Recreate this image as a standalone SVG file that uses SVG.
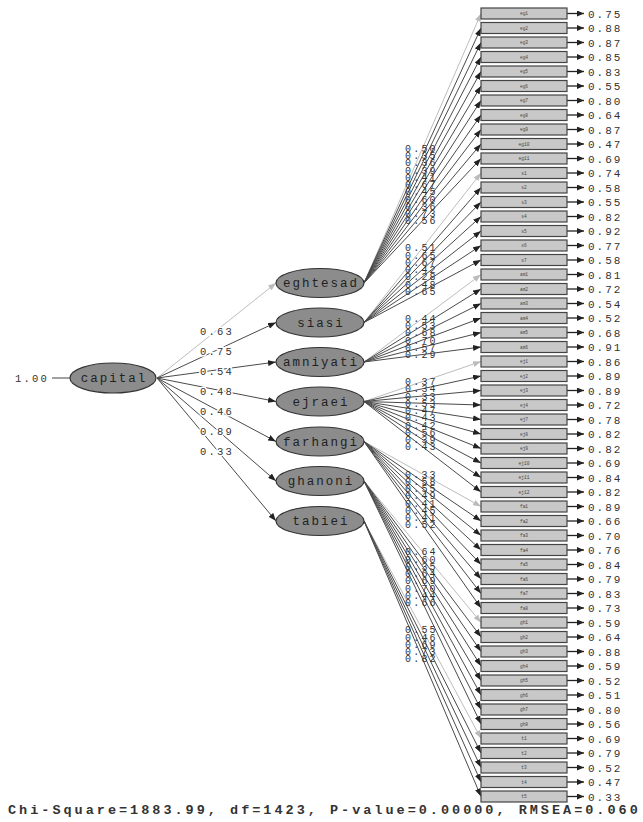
<svg xmlns="http://www.w3.org/2000/svg" width="643" height="822" viewBox="0 0 643 822">
<defs>
<style>
.bg{fill:#fff}
.ln{stroke:#4a4a4a;stroke-width:1;fill:none;marker-end:url(#ad)}
.lf{stroke:#bdbdbd;stroke-width:1;fill:none;marker-end:url(#al)}
.er{stroke:#222;stroke-width:1.3;marker-end:url(#ae)}
.bx{fill:#c8c8c8;stroke:#444;stroke-width:1.2}
.bt{font-family:"Liberation Mono",monospace;font-size:4.5px;fill:#444;text-anchor:middle}
.lv{font-family:"Liberation Mono",monospace;font-size:11px;letter-spacing:2px;fill:#333}
.ld{font-family:"Liberation Mono",monospace;font-size:10px;letter-spacing:2.2px;fill:#333}
.pl{font-family:"Liberation Mono",monospace;font-size:10.5px;letter-spacing:2.2px;fill:#333;stroke:#fff;stroke-width:3;paint-order:stroke}
.el{fill:#8c8c8c;stroke:#333;stroke-width:1.2}
.et{font-family:"Liberation Mono",monospace;font-size:12.5px;letter-spacing:2px;fill:#222;text-anchor:middle}
.ft{font-family:"Liberation Mono",monospace;font-size:13.5px;font-weight:bold;letter-spacing:3px;fill:#333}
</style>
<marker id="ad" markerUnits="userSpaceOnUse" markerWidth="8" markerHeight="6" refX="8" refY="3" orient="auto"><path d="M0,0 L8,3 L0,6 z" fill="#222"/></marker>
<marker id="al" markerUnits="userSpaceOnUse" markerWidth="8" markerHeight="6" refX="8" refY="3" orient="auto"><path d="M0,0 L8,3 L0,6 z" fill="#bbb"/></marker>
<marker id="ae" markerUnits="userSpaceOnUse" markerWidth="7" markerHeight="6" refX="7" refY="3" orient="auto"><path d="M0,0 L7,3 L0,6 z" fill="#222"/></marker>
</defs>
<rect class="bg" x="0" y="0" width="643" height="822"/>

<g id="connectors">
<line x1="52" y1="378" x2="70" y2="378" stroke="#444" stroke-width="1"/>
<line class="lf" x1="157" y1="378" x2="276" y2="283"/>
<line class="ln" x1="157" y1="378" x2="276" y2="322.5"/>
<line class="ln" x1="157" y1="378" x2="276" y2="362"/>
<line class="ln" x1="157" y1="378" x2="276" y2="401.5"/>
<line class="ln" x1="157" y1="378" x2="276" y2="441.5"/>
<line class="ln" x1="157" y1="378" x2="276" y2="481"/>
<line class="ln" x1="157" y1="378" x2="276" y2="521"/>

<line class="lf" x1="364" y1="283" x2="481" y2="13.5"/>
<line class="ln" x1="364" y1="283" x2="481" y2="28"/>
<line class="ln" x1="364" y1="283" x2="481" y2="42.5"/>
<line class="ln" x1="364" y1="283" x2="481" y2="57"/>
<line class="ln" x1="364" y1="283" x2="481" y2="71.5"/>
<line class="ln" x1="364" y1="283" x2="481" y2="86"/>
<line class="ln" x1="364" y1="283" x2="481" y2="100.5"/>
<line class="ln" x1="364" y1="283" x2="481" y2="115"/>
<line class="ln" x1="364" y1="283" x2="481" y2="129.5"/>
<line class="ln" x1="364" y1="283" x2="481" y2="144"/>
<line class="ln" x1="364" y1="283" x2="481" y2="158.5"/>

<line class="lf" x1="364" y1="322.5" x2="481" y2="173"/>
<line class="ln" x1="364" y1="322.5" x2="481" y2="187.5"/>
<line class="ln" x1="364" y1="322.5" x2="481" y2="202"/>
<line class="ln" x1="364" y1="322.5" x2="481" y2="216.5"/>
<line class="ln" x1="364" y1="322.5" x2="481" y2="231"/>
<line class="ln" x1="364" y1="322.5" x2="481" y2="245.5"/>
<line class="ln" x1="364" y1="322.5" x2="481" y2="260"/>

<line class="lf" x1="364" y1="362" x2="481" y2="274.5"/>
<line class="ln" x1="364" y1="362" x2="481" y2="289"/>
<line class="ln" x1="364" y1="362" x2="481" y2="303.5"/>
<line class="ln" x1="364" y1="362" x2="481" y2="318"/>
<line class="ln" x1="364" y1="362" x2="481" y2="332.5"/>
<line class="ln" x1="364" y1="362" x2="481" y2="347"/>

<line class="lf" x1="364" y1="401.5" x2="481" y2="361.5"/>
<line class="ln" x1="364" y1="401.5" x2="481" y2="376"/>
<line class="ln" x1="364" y1="401.5" x2="481" y2="390.5"/>
<line class="ln" x1="364" y1="401.5" x2="481" y2="405"/>
<line class="ln" x1="364" y1="401.5" x2="481" y2="419.5"/>
<line class="ln" x1="364" y1="401.5" x2="481" y2="434"/>
<line class="ln" x1="364" y1="401.5" x2="481" y2="448.5"/>
<line class="ln" x1="364" y1="401.5" x2="481" y2="463"/>
<line class="ln" x1="364" y1="401.5" x2="481" y2="477.5"/>
<line class="ln" x1="364" y1="401.5" x2="481" y2="492"/>

<line class="lf" x1="364" y1="441.5" x2="481" y2="506.5"/>
<line class="ln" x1="364" y1="441.5" x2="481" y2="521"/>
<line class="ln" x1="364" y1="441.5" x2="481" y2="535.5"/>
<line class="ln" x1="364" y1="441.5" x2="481" y2="550"/>
<line class="ln" x1="364" y1="441.5" x2="481" y2="564.5"/>
<line class="ln" x1="364" y1="441.5" x2="481" y2="579"/>
<line class="ln" x1="364" y1="441.5" x2="481" y2="593.5"/>
<line class="ln" x1="364" y1="441.5" x2="481" y2="608"/>

<line class="lf" x1="364" y1="481" x2="481" y2="622.5"/>
<line class="ln" x1="364" y1="481" x2="481" y2="637"/>
<line class="ln" x1="364" y1="481" x2="481" y2="651.5"/>
<line class="ln" x1="364" y1="481" x2="481" y2="666"/>
<line class="ln" x1="364" y1="481" x2="481" y2="680.5"/>
<line class="ln" x1="364" y1="481" x2="481" y2="695"/>
<line class="ln" x1="364" y1="481" x2="481" y2="709.5"/>
<line class="ln" x1="364" y1="481" x2="481" y2="724"/>

<line class="lf" x1="364" y1="521" x2="481" y2="738.5"/>
<line class="ln" x1="364" y1="521" x2="481" y2="753"/>
<line class="ln" x1="364" y1="521" x2="481" y2="767.5"/>
<line class="ln" x1="364" y1="521" x2="481" y2="782"/>
<line class="ln" x1="364" y1="521" x2="481" y2="796.5"/>

<line class="er" x1="567" y1="13.5" x2="584" y2="13.5"/>
<line class="er" x1="567" y1="28" x2="584" y2="28"/>
<line class="er" x1="567" y1="42.5" x2="584" y2="42.5"/>
<line class="er" x1="567" y1="57" x2="584" y2="57"/>
<line class="er" x1="567" y1="71.5" x2="584" y2="71.5"/>
<line class="er" x1="567" y1="86" x2="584" y2="86"/>
<line class="er" x1="567" y1="100.5" x2="584" y2="100.5"/>
<line class="er" x1="567" y1="115" x2="584" y2="115"/>
<line class="er" x1="567" y1="129.5" x2="584" y2="129.5"/>
<line class="er" x1="567" y1="144" x2="584" y2="144"/>
<line class="er" x1="567" y1="158.5" x2="584" y2="158.5"/>
<line class="er" x1="567" y1="173" x2="584" y2="173"/>
<line class="er" x1="567" y1="187.5" x2="584" y2="187.5"/>
<line class="er" x1="567" y1="202" x2="584" y2="202"/>
<line class="er" x1="567" y1="216.5" x2="584" y2="216.5"/>
<line class="er" x1="567" y1="231" x2="584" y2="231"/>
<line class="er" x1="567" y1="245.5" x2="584" y2="245.5"/>
<line class="er" x1="567" y1="260" x2="584" y2="260"/>
<line class="er" x1="567" y1="274.5" x2="584" y2="274.5"/>
<line class="er" x1="567" y1="289" x2="584" y2="289"/>
<line class="er" x1="567" y1="303.5" x2="584" y2="303.5"/>
<line class="er" x1="567" y1="318" x2="584" y2="318"/>
<line class="er" x1="567" y1="332.5" x2="584" y2="332.5"/>
<line class="er" x1="567" y1="347" x2="584" y2="347"/>
<line class="er" x1="567" y1="361.5" x2="584" y2="361.5"/>
<line class="er" x1="567" y1="376" x2="584" y2="376"/>
<line class="er" x1="567" y1="390.5" x2="584" y2="390.5"/>
<line class="er" x1="567" y1="405" x2="584" y2="405"/>
<line class="er" x1="567" y1="419.5" x2="584" y2="419.5"/>
<line class="er" x1="567" y1="434" x2="584" y2="434"/>
<line class="er" x1="567" y1="448.5" x2="584" y2="448.5"/>
<line class="er" x1="567" y1="463" x2="584" y2="463"/>
<line class="er" x1="567" y1="477.5" x2="584" y2="477.5"/>
<line class="er" x1="567" y1="492" x2="584" y2="492"/>
<line class="er" x1="567" y1="506.5" x2="584" y2="506.5"/>
<line class="er" x1="567" y1="521" x2="584" y2="521"/>
<line class="er" x1="567" y1="535.5" x2="584" y2="535.5"/>
<line class="er" x1="567" y1="550" x2="584" y2="550"/>
<line class="er" x1="567" y1="564.5" x2="584" y2="564.5"/>
<line class="er" x1="567" y1="579" x2="584" y2="579"/>
<line class="er" x1="567" y1="593.5" x2="584" y2="593.5"/>
<line class="er" x1="567" y1="608" x2="584" y2="608"/>
<line class="er" x1="567" y1="622.5" x2="584" y2="622.5"/>
<line class="er" x1="567" y1="637" x2="584" y2="637"/>
<line class="er" x1="567" y1="651.5" x2="584" y2="651.5"/>
<line class="er" x1="567" y1="666" x2="584" y2="666"/>
<line class="er" x1="567" y1="680.5" x2="584" y2="680.5"/>
<line class="er" x1="567" y1="695" x2="584" y2="695"/>
<line class="er" x1="567" y1="709.5" x2="584" y2="709.5"/>
<line class="er" x1="567" y1="724" x2="584" y2="724"/>
<line class="er" x1="567" y1="738.5" x2="584" y2="738.5"/>
<line class="er" x1="567" y1="753" x2="584" y2="753"/>
<line class="er" x1="567" y1="767.5" x2="584" y2="767.5"/>
<line class="er" x1="567" y1="782" x2="584" y2="782"/>
<line class="er" x1="567" y1="796.5" x2="584" y2="796.5"/>
</g>

<g id="path-labels">
<text class="pl" x="15" y="381.5">1.00</text>
<text class="pl" x="200" y="335">0.63</text>
<text class="pl" x="200" y="355">0.75</text>
<text class="pl" x="200" y="375">0.54</text>
<text class="pl" x="200" y="394.5">0.48</text>
<text class="pl" x="200" y="414.5">0.46</text>
<text class="pl" x="200" y="434.5">0.89</text>
<text class="pl" x="200" y="454.5">0.33</text>
</g>

<g id="loading-labels">
<text class="ld" x="405" y="151.8">0.50</text>
<text class="ld" x="405" y="159">0.35</text>
<text class="ld" x="405" y="166.3">0.36</text>
<text class="ld" x="405" y="173.5">0.39</text>
<text class="ld" x="405" y="180.8">0.41</text>
<text class="ld" x="405" y="188">0.67</text>
<text class="ld" x="405" y="195.3">0.45</text>
<text class="ld" x="405" y="202.5">0.60</text>
<text class="ld" x="405" y="209.8">0.36</text>
<text class="ld" x="405" y="217">0.73</text>
<text class="ld" x="405" y="224.3">0.56</text>

<text class="ld" x="405" y="251.3">0.51</text>
<text class="ld" x="405" y="258.5">0.65</text>
<text class="ld" x="405" y="265.8">0.67</text>
<text class="ld" x="405" y="273">0.42</text>
<text class="ld" x="405" y="280.3">0.28</text>
<text class="ld" x="405" y="287.5">0.48</text>
<text class="ld" x="405" y="294.8">0.65</text>

<text class="ld" x="405" y="321.8">0.44</text>
<text class="ld" x="405" y="329">0.53</text>
<text class="ld" x="405" y="336.3">0.68</text>
<text class="ld" x="405" y="343.5">0.70</text>
<text class="ld" x="405" y="350.8">0.57</text>
<text class="ld" x="405" y="358">0.29</text>

<text class="ld" x="405" y="385">0.37</text>
<text class="ld" x="405" y="392.3">0.34</text>
<text class="ld" x="405" y="399.5">0.33</text>
<text class="ld" x="405" y="406.8">0.53</text>
<text class="ld" x="405" y="414">0.47</text>
<text class="ld" x="405" y="421.3">0.43</text>
<text class="ld" x="405" y="428.5">0.42</text>
<text class="ld" x="405" y="435.8">0.56</text>
<text class="ld" x="405" y="443">0.39</text>
<text class="ld" x="405" y="450.3">0.43</text>

<text class="ld" x="405" y="477.5">0.33</text>
<text class="ld" x="405" y="484.8">0.58</text>
<text class="ld" x="405" y="492">0.55</text>
<text class="ld" x="405" y="499.3">0.49</text>
<text class="ld" x="405" y="506.5">0.41</text>
<text class="ld" x="405" y="513.8">0.45</text>
<text class="ld" x="405" y="521">0.41</text>
<text class="ld" x="405" y="528.3">0.52</text>

<text class="ld" x="405" y="555.3">0.64</text>
<text class="ld" x="405" y="562.5">0.60</text>
<text class="ld" x="405" y="569.8">0.35</text>
<text class="ld" x="405" y="577">0.64</text>
<text class="ld" x="405" y="584.3">0.69</text>
<text class="ld" x="405" y="591.5">0.70</text>
<text class="ld" x="405" y="598.8">0.44</text>
<text class="ld" x="405" y="606">0.66</text>

<text class="ld" x="405" y="633.3">0.55</text>
<text class="ld" x="405" y="640.5">0.46</text>
<text class="ld" x="405" y="647.8">0.69</text>
<text class="ld" x="405" y="655">0.73</text>
<text class="ld" x="405" y="662.3">0.82</text>
</g>

<g id="capital"><ellipse class="el" cx="113" cy="378" rx="43" ry="15"/><text class="et" x="114" y="382">capital</text></g>
<g id="eghtesad"><ellipse class="el" cx="320" cy="283" rx="44" ry="14.5"/><text class="et" x="321" y="287">eghtesad</text></g>
<g id="siasi"><ellipse class="el" cx="320" cy="322.5" rx="44" ry="14.5"/><text class="et" x="321" y="326.5">siasi</text></g>
<g id="amniyati"><ellipse class="el" cx="320" cy="362" rx="44" ry="14.5"/><text class="et" x="321" y="366">amniyati</text></g>
<g id="ejraei"><ellipse class="el" cx="320" cy="401.5" rx="44" ry="14.5"/><text class="et" x="321" y="405.5">ejraei</text></g>
<g id="farhangi"><ellipse class="el" cx="320" cy="441.5" rx="44" ry="14.5"/><text class="et" x="321" y="445.5">farhangi</text></g>
<g id="ghanoni"><ellipse class="el" cx="320" cy="481" rx="44" ry="14.5"/><text class="et" x="321" y="485">ghanoni</text></g>
<g id="tabiei"><ellipse class="el" cx="320" cy="521" rx="44" ry="14.5"/><text class="et" x="321" y="525">tabiei</text></g>

<g id="eg1"><rect class="bx" x="481" y="8" width="86" height="11"/><text class="bt" x="524" y="15">eg1</text><text class="lv" x="588" y="17.5">0.75</text></g>
<g id="eg2"><rect class="bx" x="481" y="22.5" width="86" height="11"/><text class="bt" x="524" y="29.5">eg2</text><text class="lv" x="588" y="32">0.88</text></g>
<g id="eg3"><rect class="bx" x="481" y="37" width="86" height="11"/><text class="bt" x="524" y="44">eg3</text><text class="lv" x="588" y="46.5">0.87</text></g>
<g id="eg4"><rect class="bx" x="481" y="51.5" width="86" height="11"/><text class="bt" x="524" y="58.5">eg4</text><text class="lv" x="588" y="61">0.85</text></g>
<g id="eg5"><rect class="bx" x="481" y="66" width="86" height="11"/><text class="bt" x="524" y="73">eg5</text><text class="lv" x="588" y="75.5">0.83</text></g>
<g id="eg6"><rect class="bx" x="481" y="80.5" width="86" height="11"/><text class="bt" x="524" y="87.5">eg6</text><text class="lv" x="588" y="90">0.55</text></g>
<g id="eg7"><rect class="bx" x="481" y="95" width="86" height="11"/><text class="bt" x="524" y="102">eg7</text><text class="lv" x="588" y="104.5">0.80</text></g>
<g id="eg8"><rect class="bx" x="481" y="109.5" width="86" height="11"/><text class="bt" x="524" y="116.5">eg8</text><text class="lv" x="588" y="119">0.64</text></g>
<g id="eg9"><rect class="bx" x="481" y="124" width="86" height="11"/><text class="bt" x="524" y="131">eg9</text><text class="lv" x="588" y="133.5">0.87</text></g>
<g id="eg10"><rect class="bx" x="481" y="138.5" width="86" height="11"/><text class="bt" x="524" y="145.5">eg10</text><text class="lv" x="588" y="148">0.47</text></g>
<g id="eg11"><rect class="bx" x="481" y="153" width="86" height="11"/><text class="bt" x="524" y="160">eg11</text><text class="lv" x="588" y="162.5">0.69</text></g>

<g id="s1"><rect class="bx" x="481" y="167.5" width="86" height="11"/><text class="bt" x="524" y="174.5">s1</text><text class="lv" x="588" y="177">0.74</text></g>
<g id="s2"><rect class="bx" x="481" y="182" width="86" height="11"/><text class="bt" x="524" y="189">s2</text><text class="lv" x="588" y="191.5">0.58</text></g>
<g id="s3"><rect class="bx" x="481" y="196.5" width="86" height="11"/><text class="bt" x="524" y="203.5">s3</text><text class="lv" x="588" y="206">0.55</text></g>
<g id="s4"><rect class="bx" x="481" y="211" width="86" height="11"/><text class="bt" x="524" y="218">s4</text><text class="lv" x="588" y="220.5">0.82</text></g>
<g id="s5"><rect class="bx" x="481" y="225.5" width="86" height="11"/><text class="bt" x="524" y="232.5">s5</text><text class="lv" x="588" y="235">0.92</text></g>
<g id="s6"><rect class="bx" x="481" y="240" width="86" height="11"/><text class="bt" x="524" y="247">s6</text><text class="lv" x="588" y="249.5">0.77</text></g>
<g id="s7"><rect class="bx" x="481" y="254.5" width="86" height="11"/><text class="bt" x="524" y="261.5">s7</text><text class="lv" x="588" y="264">0.58</text></g>

<g id="am1"><rect class="bx" x="481" y="269" width="86" height="11"/><text class="bt" x="524" y="276">am1</text><text class="lv" x="588" y="278.5">0.81</text></g>
<g id="am2"><rect class="bx" x="481" y="283.5" width="86" height="11"/><text class="bt" x="524" y="290.5">am2</text><text class="lv" x="588" y="293">0.72</text></g>
<g id="am3"><rect class="bx" x="481" y="298" width="86" height="11"/><text class="bt" x="524" y="305">am3</text><text class="lv" x="588" y="307.5">0.54</text></g>
<g id="am4"><rect class="bx" x="481" y="312.5" width="86" height="11"/><text class="bt" x="524" y="319.5">am4</text><text class="lv" x="588" y="322">0.52</text></g>
<g id="am5"><rect class="bx" x="481" y="327" width="86" height="11"/><text class="bt" x="524" y="334">am5</text><text class="lv" x="588" y="336.5">0.68</text></g>
<g id="am6"><rect class="bx" x="481" y="341.5" width="86" height="11"/><text class="bt" x="524" y="348.5">am6</text><text class="lv" x="588" y="351">0.91</text></g>

<g id="ej1"><rect class="bx" x="481" y="356" width="86" height="11"/><text class="bt" x="524" y="363">ej1</text><text class="lv" x="588" y="365.5">0.86</text></g>
<g id="ej2"><rect class="bx" x="481" y="370.5" width="86" height="11"/><text class="bt" x="524" y="377.5">ej2</text><text class="lv" x="588" y="380">0.89</text></g>
<g id="ej3"><rect class="bx" x="481" y="385" width="86" height="11"/><text class="bt" x="524" y="392">ej3</text><text class="lv" x="588" y="394.5">0.89</text></g>
<g id="ej4"><rect class="bx" x="481" y="399.5" width="86" height="11"/><text class="bt" x="524" y="406.5">ej4</text><text class="lv" x="588" y="409">0.72</text></g>
<g id="ej5"><rect class="bx" x="481" y="414" width="86" height="11"/><text class="bt" x="524" y="421">ej7</text><text class="lv" x="588" y="423.5">0.78</text></g>
<g id="ej6"><rect class="bx" x="481" y="428.5" width="86" height="11"/><text class="bt" x="524" y="435.5">ej8</text><text class="lv" x="588" y="438">0.82</text></g>
<g id="ej7"><rect class="bx" x="481" y="443" width="86" height="11"/><text class="bt" x="524" y="450">ej9</text><text class="lv" x="588" y="452.5">0.82</text></g>
<g id="ej8"><rect class="bx" x="481" y="457.5" width="86" height="11"/><text class="bt" x="524" y="464.5">ej10</text><text class="lv" x="588" y="467">0.69</text></g>
<g id="ej9"><rect class="bx" x="481" y="472" width="86" height="11"/><text class="bt" x="524" y="479">ej11</text><text class="lv" x="588" y="481.5">0.84</text></g>
<g id="ej10"><rect class="bx" x="481" y="486.5" width="86" height="11"/><text class="bt" x="524" y="493.5">ej12</text><text class="lv" x="588" y="496">0.82</text></g>

<g id="fa1"><rect class="bx" x="481" y="501" width="86" height="11"/><text class="bt" x="524" y="508">fa1</text><text class="lv" x="588" y="510.5">0.89</text></g>
<g id="fa2"><rect class="bx" x="481" y="515.5" width="86" height="11"/><text class="bt" x="524" y="522.5">fa2</text><text class="lv" x="588" y="525">0.66</text></g>
<g id="fa3"><rect class="bx" x="481" y="530" width="86" height="11"/><text class="bt" x="524" y="537">fa3</text><text class="lv" x="588" y="539.5">0.70</text></g>
<g id="fa4"><rect class="bx" x="481" y="544.5" width="86" height="11"/><text class="bt" x="524" y="551.5">fa4</text><text class="lv" x="588" y="554">0.76</text></g>
<g id="fa5"><rect class="bx" x="481" y="559" width="86" height="11"/><text class="bt" x="524" y="566">fa5</text><text class="lv" x="588" y="568.5">0.84</text></g>
<g id="fa6"><rect class="bx" x="481" y="573.5" width="86" height="11"/><text class="bt" x="524" y="580.5">fa6</text><text class="lv" x="588" y="583">0.79</text></g>
<g id="fa7"><rect class="bx" x="481" y="588" width="86" height="11"/><text class="bt" x="524" y="595">fa7</text><text class="lv" x="588" y="597.5">0.83</text></g>
<g id="fa8"><rect class="bx" x="481" y="602.5" width="86" height="11"/><text class="bt" x="524" y="609.5">fa8</text><text class="lv" x="588" y="612">0.73</text></g>

<g id="gh1"><rect class="bx" x="481" y="617" width="86" height="11"/><text class="bt" x="524" y="624">gh1</text><text class="lv" x="588" y="626.5">0.59</text></g>
<g id="gh2"><rect class="bx" x="481" y="631.5" width="86" height="11"/><text class="bt" x="524" y="638.5">gh2</text><text class="lv" x="588" y="641">0.64</text></g>
<g id="gh3"><rect class="bx" x="481" y="646" width="86" height="11"/><text class="bt" x="524" y="653">gh3</text><text class="lv" x="588" y="655.5">0.88</text></g>
<g id="gh4"><rect class="bx" x="481" y="660.5" width="86" height="11"/><text class="bt" x="524" y="667.5">gh4</text><text class="lv" x="588" y="670">0.59</text></g>
<g id="gh5"><rect class="bx" x="481" y="675" width="86" height="11"/><text class="bt" x="524" y="682">gh5</text><text class="lv" x="588" y="684.5">0.52</text></g>
<g id="gh6"><rect class="bx" x="481" y="689.5" width="86" height="11"/><text class="bt" x="524" y="696.5">gh6</text><text class="lv" x="588" y="699">0.51</text></g>
<g id="gh7"><rect class="bx" x="481" y="704" width="86" height="11"/><text class="bt" x="524" y="711">gh7</text><text class="lv" x="588" y="713.5">0.80</text></g>
<g id="gh8"><rect class="bx" x="481" y="718.5" width="86" height="11"/><text class="bt" x="524" y="725.5">gh8</text><text class="lv" x="588" y="728">0.56</text></g>

<g id="t1"><rect class="bx" x="481" y="733" width="86" height="11"/><text class="bt" x="524" y="740">t1</text><text class="lv" x="588" y="742.5">0.69</text></g>
<g id="t2"><rect class="bx" x="481" y="747.5" width="86" height="11"/><text class="bt" x="524" y="754.5">t2</text><text class="lv" x="588" y="757">0.79</text></g>
<g id="t3"><rect class="bx" x="481" y="762" width="86" height="11"/><text class="bt" x="524" y="769">t3</text><text class="lv" x="588" y="771.5">0.52</text></g>
<g id="t4"><rect class="bx" x="481" y="776.5" width="86" height="11"/><text class="bt" x="524" y="783.5">t4</text><text class="lv" x="588" y="786">0.47</text></g>
<g id="t5"><rect class="bx" x="481" y="791" width="86" height="11"/><text class="bt" x="524" y="798">t5</text><text class="lv" x="588" y="800.5">0.33</text></g>

<text class="ft" x="8" y="814">Chi-Square=1883.99, df=1423, P-value=0.00000, RMSEA=0.060</text>
</svg>
